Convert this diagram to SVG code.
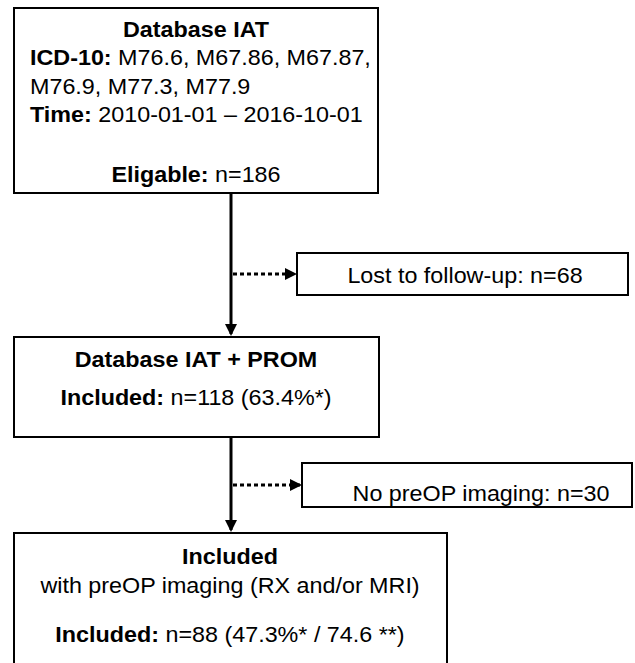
<svg xmlns="http://www.w3.org/2000/svg" width="635" height="663" viewBox="0 0 635 663">
<style>
.box{fill:#fff;stroke:#000;stroke-width:2}
text{font-family:"Liberation Sans",Arial,sans-serif;font-size:21.5px;fill:#000}
.b{font-weight:bold}
.c{text-anchor:middle}
.main{stroke:#000;stroke-width:3;fill:none}
.dot{stroke:#000;stroke-width:3;stroke-dasharray:4 3;fill:none}
</style>
<defs>
<marker id="ah" markerWidth="12" markerHeight="12" refX="10" refY="6" orient="auto" markerUnits="userSpaceOnUse"><path d="M0,0 L12,6 L0,12 Z" fill="#000"/></marker>
</defs>
<g id="connectors">
<line class="main" x1="231" y1="194" x2="231" y2="334" marker-end="url(#ah)"/>
<line class="dot" x1="233" y1="274" x2="295" y2="274" marker-end="url(#ah)"/>
<line class="main" x1="231" y1="437" x2="231" y2="530" marker-end="url(#ah)"/>
<line class="dot" x1="233" y1="485" x2="300" y2="485" marker-end="url(#ah)"/>
</g>
<g id="n1">
<rect class="box" x="14" y="8" width="364" height="185"/>
<text class="b c" transform="translate(196,37) scale(1.085,1)">Database IAT</text>
<text transform="translate(30,65) scale(1.085,1)"><tspan class="b">ICD-10:</tspan> M76.6, M67.86, M67.87,</text>
<text transform="translate(30,93.5) scale(1.085,1)">M76.9, M77.3, M77.9</text>
<text transform="translate(30,122) scale(1.085,1)"><tspan class="b">Time:</tspan> 2010-01-01 – 2016-10-01</text>
<text class="c" transform="translate(196,182) scale(1.085,1)"><tspan class="b">Eligable:</tspan> n=186</text>
</g>
<g id="n2">
<rect class="box" x="297" y="253" width="331" height="42"/>
<text class="c" transform="translate(465,283) scale(1.085,1)">Lost to follow-up: n=68</text>
</g>
<g id="n3">
<rect class="box" x="14" y="337" width="365" height="100"/>
<text class="b c" transform="translate(196,367) scale(1.085,1)">Database IAT + PROM</text>
<text class="c" transform="translate(196,405) scale(1.085,1)"><tspan class="b">Included:</tspan> n=118 (63.4%*)</text>
</g>
<g id="n4">
<rect class="box" x="302" y="463" width="330" height="44"/>
<text class="c" transform="translate(481,501) scale(1.085,1)">No preOP imaging: n=30</text>
</g>
<g id="n5">
<rect class="box" x="14" y="533" width="433" height="140"/>
<text class="b c" transform="translate(230,564) scale(1.085,1)">Included</text>
<text class="c" transform="translate(230,593) scale(1.085,1)">with preOP imaging (RX and/or MRI)</text>
<text class="c" transform="translate(230,642) scale(1.085,1)"><tspan class="b">Included:</tspan> n=88 (47.3%* / 74.6 **)</text>
</g>
</svg>
